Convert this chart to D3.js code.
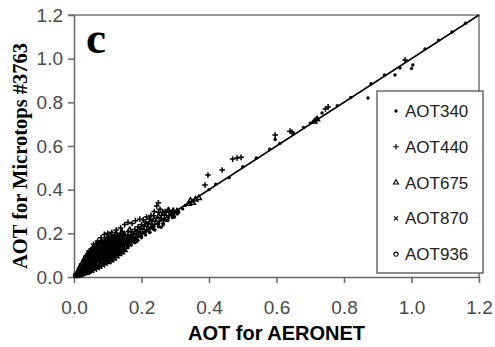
<!DOCTYPE html>
<html>
<head>
<meta charset="utf-8">
<script src="https://cdn.jsdelivr.net/npm/d3@7"></script>
<style>
  html, body { margin: 0; padding: 0; background: #fff; }
  svg { display: block; }
  .tick text { font-family: Arial, "Liberation Sans", sans-serif; font-size: 19px; fill: #4a4a4a; }
</style>
</head>
<body>
<script>
const seriesNames = ['AOT340', 'AOT440', 'AOT675', 'AOT870', 'AOT936']
const xTicks = [0, 0.2, 0.4, 0.6, 0.8, 1.0, 1.2]
const yTicks = [0, 0.2, 0.4, 0.6, 0.8, 1.0, 1.2]

// [AERONET, Microtops] pairs
const aot340 = [
  [0.010, 0.008], [0.030, 0.015], [0.045, 0.025], [0.060, 0.035], [0.075, 0.045],
  [0.090, 0.058], [0.100, 0.070], [0.108, 0.080], [0.115, 0.095], [0.125, 0.105],
  [0.135, 0.118], [0.140, 0.140], [0.148, 0.128], [0.155, 0.160], [0.165, 0.150],
  [0.175, 0.170], [0.185, 0.175], [0.190, 0.195], [0.200, 0.185], [0.210, 0.200],
  [0.218, 0.215], [0.225, 0.205], [0.232, 0.225], [0.240, 0.215], [0.250, 0.240],
  [0.258, 0.228], [0.264, 0.245], [0.272, 0.260], [0.280, 0.270], [0.290, 0.282],
  [0.298, 0.275], [0.310, 0.300], [0.322, 0.312], [0.330, 0.328], [0.293, 0.284],
  [0.255, 0.261], [0.264, 0.238], [0.400, 0.400], [0.420, 0.425], [0.460, 0.455],
  [0.500, 0.505], [0.540, 0.545], [0.580, 0.585], [0.596, 0.630], [0.610, 0.612],
  [0.650, 0.655], [0.680, 0.685], [0.700, 0.705], [0.708, 0.710], [0.720, 0.728],
  [0.735, 0.751], [0.780, 0.785], [0.820, 0.822], [0.871, 0.820], [0.880, 0.885],
  [0.920, 0.925], [0.951, 0.925], [0.966, 0.957], [1.004, 0.971], [1.000, 0.955],
  [1.040, 1.045], [1.080, 1.085], [1.120, 1.122], [1.160, 1.162],
  [0.160, 0.135], [0.161, 0.150], [0.170, 0.146], [0.171, 0.161], [0.180, 0.157],
  [0.181, 0.172], [0.190, 0.168], [0.191, 0.184], [0.200, 0.180], [0.201, 0.196],
  [0.212, 0.192], [0.213, 0.208], [0.224, 0.204], [0.225, 0.220], [0.236, 0.218],
  [0.237, 0.232], [0.250, 0.230], [0.251, 0.246], [0.264, 0.244], [0.265, 0.260],
  [0.278, 0.258], [0.279, 0.274], [0.292, 0.272], [0.306, 0.288]
]
const aot440 = [
  [0.035, 0.095], [0.045, 0.120], [0.058, 0.150], [0.070, 0.165], [0.080, 0.180],
  [0.090, 0.195], [0.100, 0.200], [0.112, 0.205], [0.125, 0.215], [0.138, 0.225],
  [0.150, 0.240], [0.160, 0.250], [0.172, 0.245], [0.182, 0.258], [0.195, 0.265],
  [0.205, 0.262], [0.215, 0.275], [0.228, 0.282], [0.238, 0.300], [0.245, 0.325],
  [0.250, 0.340], [0.255, 0.310], [0.262, 0.295], [0.270, 0.300], [0.282, 0.305],
  [0.295, 0.305], [0.305, 0.302], [0.388, 0.421], [0.397, 0.467], [0.439, 0.490],
  [0.483, 0.545], [0.470, 0.540], [0.495, 0.548], [0.596, 0.650], [0.646, 0.664],
  [0.640, 0.668], [0.753, 0.779], [0.745, 0.770], [0.981, 0.994],
  [0.160, 0.194], [0.161, 0.208], [0.170, 0.206], [0.180, 0.218], [0.190, 0.230],
  [0.200, 0.240], [0.212, 0.252], [0.224, 0.266], [0.236, 0.280], [0.250, 0.296]
]
const aot675 = [
  [0.020, 0.050], [0.030, 0.080], [0.040, 0.105], [0.050, 0.085], [0.055, 0.130],
  [0.062, 0.100], [0.066, 0.145], [0.072, 0.120], [0.078, 0.075], [0.082, 0.160],
  [0.086, 0.130], [0.092, 0.090], [0.096, 0.172], [0.100, 0.140], [0.104, 0.100],
  [0.110, 0.185], [0.114, 0.155], [0.118, 0.120], [0.124, 0.195], [0.130, 0.165],
  [0.136, 0.130], [0.142, 0.205], [0.150, 0.175], [0.158, 0.150], [0.165, 0.215],
  [0.172, 0.185], [0.180, 0.165], [0.345, 0.350], [0.352, 0.340], [0.360, 0.355],
  [0.370, 0.362], [0.340, 0.335], [0.712, 0.712], [0.720, 0.722],
  [0.102, 0.069], [0.103, 0.083], [0.101, 0.097], [0.102, 0.111], [0.103, 0.127],
  [0.101, 0.141], [0.102, 0.155], [0.103, 0.169], [0.102, 0.180], [0.110, 0.077],
  [0.111, 0.091], [0.109, 0.105], [0.110, 0.119], [0.111, 0.133], [0.109, 0.147],
  [0.110, 0.161], [0.111, 0.175], [0.110, 0.186], [0.118, 0.085], [0.119, 0.099],
  [0.117, 0.113], [0.118, 0.127], [0.119, 0.141], [0.117, 0.157], [0.118, 0.171],
  [0.119, 0.184], [0.126, 0.095], [0.127, 0.109], [0.125, 0.123], [0.126, 0.137],
  [0.127, 0.151], [0.125, 0.165], [0.126, 0.179], [0.127, 0.192], [0.134, 0.105],
  [0.135, 0.119], [0.133, 0.133], [0.134, 0.147], [0.135, 0.161], [0.133, 0.175],
  [0.134, 0.188], [0.142, 0.113], [0.143, 0.127], [0.141, 0.141], [0.142, 0.155],
  [0.143, 0.169], [0.141, 0.185], [0.142, 0.198], [0.150, 0.123], [0.151, 0.137],
  [0.149, 0.151], [0.150, 0.167], [0.151, 0.181], [0.149, 0.194],
  [0.159, 0.164], [0.160, 0.178], [0.169, 0.176], [0.171, 0.190], [0.179, 0.186],
  [0.181, 0.202], [0.189, 0.200], [0.191, 0.214], [0.199, 0.210], [0.201, 0.226],
  [0.211, 0.224], [0.213, 0.240], [0.223, 0.236], [0.225, 0.250], [0.235, 0.248],
  [0.237, 0.262], [0.249, 0.262], [0.251, 0.278], [0.263, 0.276], [0.265, 0.290],
  [0.277, 0.290], [0.279, 0.304], [0.291, 0.288], [0.293, 0.300], [0.305, 0.300]
]
const aot870 = [
  [0.006, 0.004], [0.012, 0.006], [0.015, 0.025], [0.020, 0.010], [0.022, 0.040],
  [0.026, 0.018], [0.030, 0.060], [0.032, 0.026], [0.038, 0.072], [0.040, 0.020],
  [0.044, 0.088], [0.046, 0.048], [0.050, 0.100], [0.052, 0.030], [0.056, 0.112],
  [0.060, 0.070], [0.062, 0.040], [0.066, 0.125], [0.070, 0.088], [0.074, 0.050],
  [0.078, 0.135], [0.082, 0.100], [0.086, 0.065], [0.090, 0.150], [0.095, 0.115],
  [0.054, 0.028], [0.055, 0.044], [0.053, 0.059], [0.054, 0.074], [0.055, 0.089],
  [0.053, 0.102], [0.054, 0.117], [0.055, 0.128], [0.062, 0.034], [0.063, 0.051],
  [0.061, 0.065], [0.062, 0.080], [0.063, 0.095], [0.061, 0.109], [0.062, 0.123],
  [0.063, 0.137], [0.070, 0.041], [0.071, 0.055], [0.069, 0.071], [0.070, 0.086],
  [0.071, 0.101], [0.069, 0.115], [0.070, 0.129], [0.071, 0.142], [0.070, 0.153],
  [0.078, 0.047], [0.079, 0.063], [0.077, 0.077], [0.078, 0.091], [0.079, 0.107],
  [0.077, 0.121], [0.078, 0.135], [0.079, 0.149], [0.078, 0.160], [0.086, 0.053],
  [0.087, 0.069], [0.085, 0.083], [0.086, 0.099], [0.087, 0.113], [0.085, 0.127],
  [0.086, 0.141], [0.087, 0.155], [0.086, 0.166], [0.094, 0.061], [0.095, 0.075],
  [0.093, 0.091], [0.094, 0.105], [0.095, 0.119], [0.093, 0.133], [0.094, 0.147],
  [0.095, 0.161], [0.094, 0.172]
]
const aot936 = [
  [0.005, 0.008], [0.010, 0.012], [0.012, 0.020], [0.018, 0.015], [0.020, 0.028],
  [0.025, 0.022], [0.028, 0.035], [0.030, 0.045], [0.034, 0.030], [0.036, 0.052],
  [0.040, 0.040], [0.042, 0.060], [0.045, 0.035], [0.048, 0.072], [0.050, 0.050],
  [0.055, 0.062], [0.058, 0.085], [0.060, 0.045], [0.064, 0.075], [0.068, 0.095],
  [0.072, 0.060], [0.075, 0.110], [0.080, 0.082],
  [0.015, 0.010], [0.015, 0.023], [0.016, 0.034], [0.022, 0.012], [0.023, 0.027],
  [0.021, 0.041], [0.022, 0.053], [0.030, 0.017], [0.031, 0.030], [0.029, 0.045],
  [0.030, 0.058], [0.031, 0.071], [0.038, 0.021], [0.037, 0.035], [0.039, 0.049],
  [0.038, 0.062], [0.037, 0.077], [0.039, 0.090], [0.046, 0.025], [0.047, 0.039],
  [0.045, 0.054], [0.046, 0.069], [0.047, 0.083], [0.045, 0.097], [0.046, 0.108]
]

const series = [aot340, aot440, aot675, aot870, aot936]

const width = 495
const height = 347
const margin = { top: 15, right: 16, bottom: 70, left: 74 }

const symbols = [
  { type: d3.symbolCircle, size: 9, fill: '#000', stroke: 'none' },
  { type: d3.symbolPlus, size: 12, fill: 'none', stroke: '#000' },
  { type: d3.symbolTriangle2, size: 18, fill: 'none', stroke: '#000' },
  { type: d3.symbolTimes || d3.symbolX, size: 13, fill: 'none', stroke: '#000' },
  { type: d3.symbolCircle, size: 14, fill: 'none', stroke: '#000' }
]

const x = d3.scaleLinear().domain([0, 1.2]).range([margin.left, width - margin.right])
const y = d3.scaleLinear().domain([0, 1.2]).range([height - margin.bottom, margin.top])

const svg = d3.select('body').append('svg')
  .attr('width', width)
  .attr('height', height)
  .attr('viewBox', `0 0 ${width} ${height}`)

// frame on top and right
svg.append('path')
  .attr('d', `M${x(0) - 6},${y(1.2)}H${x(1.2)}V${y(0)}`)
  .attr('fill', 'none')
  .attr('stroke', '#777')
  .attr('stroke-width', 1.5)

const fmt = d3.format('.1f')

const xAxis = svg.append('g')
  .attr('transform', `translate(0,${y(0)})`)
  .call(d3.axisBottom(x).tickValues(xTicks).tickFormat(fmt).tickSize(6).tickPadding(18).tickSizeOuter(0))

const yAxis = svg.append('g')
  .attr('transform', `translate(${x(0)},0)`)
  .call(d3.axisLeft(y).tickValues(yTicks).tickFormat(fmt).tickSize(6).tickPadding(5).tickSizeOuter(0))

;[xAxis, yAxis].forEach(g => {
  g.selectAll('.domain, .tick line').attr('stroke', '#666').attr('stroke-width', 1.5)
  g.attr('font-size', null).attr('font-family', null)
})

series.forEach((data, i) => {
  const sym = symbols[i]
  svg.append('g')
    .selectAll('path')
    .data(data)
    .join('path')
    .attr('transform', d => `translate(${x(d[0])},${y(d[1])})`)
    .attr('d', d3.symbol(sym.type, sym.size))
    .attr('fill', sym.fill)
    .attr('stroke', sym.stroke)
    .attr('stroke-width', 1.5)
})

svg.append('line')
  .attr('x1', x(0)).attr('y1', y(0))
  .attr('x2', x(1.2)).attr('y2', y(1.2))
  .attr('stroke', '#000')
  .attr('stroke-width', 1.5)

svg.append('text')
  .attr('x', 86)
  .attr('y', 53)
  .attr('font-family', '"Liberation Serif", "Times New Roman", serif')
  .attr('font-weight', 'bold')
  .attr('font-size', 45)
  .text('c')

svg.append('text')
  .attr('x', (x(0) + x(1.2)) / 2)
  .attr('y', 340)
  .attr('text-anchor', 'middle')
  .attr('font-family', 'Arial, "Liberation Sans", sans-serif')
  .attr('font-weight', 'bold')
  .attr('font-size', 20)
  .text('AOT for AERONET')

svg.append('text')
  .attr('transform', 'translate(27,156) rotate(-90)')
  .attr('text-anchor', 'middle')
  .attr('font-family', '"Liberation Serif", "Times New Roman", serif')
  .attr('font-weight', 'bold')
  .attr('font-size', 20.5)
  .text('AOT for Microtops #3763')

const legend = svg.append('g').attr('transform', 'translate(377,91)')

legend.append('rect')
  .attr('width', 106)
  .attr('height', 182)
  .attr('fill', '#fff')
  .attr('stroke', '#444')
  .attr('stroke-width', 1.2)

const item = legend.selectAll('g.item')
  .data(seriesNames)
  .join('g')
  .attr('class', 'item')
  .attr('transform', (d, i) => `translate(0,${20 + i * 35.8})`)

item.append('path')
  .attr('transform', 'translate(19,0)')
  .attr('d', (d, i) => d3.symbol(symbols[i].type, symbols[i].size)())
  .attr('fill', (d, i) => symbols[i].fill)
  .attr('stroke', (d, i) => symbols[i].stroke)
  .attr('stroke-width', 1.1)

item.append('text')
  .attr('x', 28)
  .attr('y', 6)
  .attr('font-family', 'Arial, "Liberation Sans", sans-serif')
  .attr('font-size', 17)
  .attr('fill', '#222')
  .text(d => d)
</script>
</body>
</html>
